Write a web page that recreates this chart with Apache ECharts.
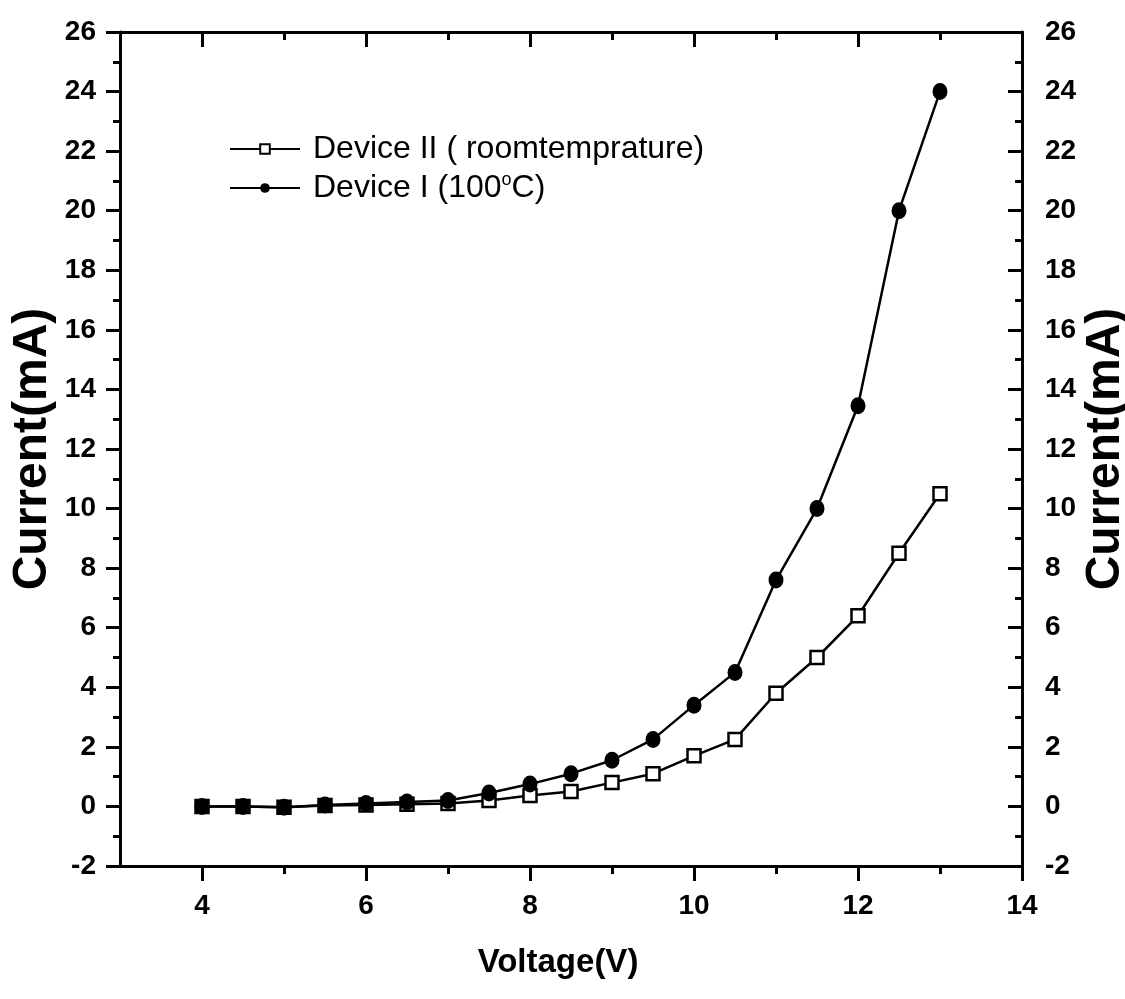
<!DOCTYPE html>
<html>
<head>
<meta charset="utf-8">
<script src="https://cdn.jsdelivr.net/npm/echarts@6/dist/echarts.min.js"></script>
<style>
html,body{margin:0;padding:0;background:#fff;}
#chart{width:1125px;height:999px;}
</style>
</head>
<body>
<div id="chart"></div>
<script>
var voltage = [4, 4.5, 5, 5.5, 6, 6.5, 7, 7.5, 8, 8.5, 9, 9.5, 10, 10.5, 11, 11.5, 12, 12.5, 13];
var deviceII = [0, 0, -0.03, 0.03, 0.05, 0.07, 0.1, 0.2, 0.37, 0.5, 0.8, 1.1, 1.7, 2.25, 3.8, 5.0, 6.4, 8.5, 10.5];
var deviceI = [0, 0, -0.03, 0.05, 0.1, 0.15, 0.2, 0.45, 0.75, 1.1, 1.55, 2.25, 3.4, 4.5, 7.6, 10.0, 13.45, 20.0, 24.0];
var xMajorTicks = [4, 6, 8, 10, 12, 14];
var xMinorTicks = [5, 7, 9, 11, 13];
var seriesNames = ['Device II ( roomtemprature)', 'Device I (100°C)'];
var xTitle = 'Voltage(V)';
var yTitle = 'Current(mA)';

function pairs(xs, ys) { return xs.map(function (x, i) { return [x, ys[i]]; }); }

var FONT = '"Liberation Sans", Arial, sans-serif';
var lineStyleAxis = { color: '#000', width: 3 };
var tickStyle = { color: '#000', width: 3 };

var chart = echarts.init(document.getElementById('chart'), null, { renderer: 'canvas' });
chart.setOption({
  backgroundColor: '#fff',
  animation: false,
  grid: { left: 120, right: 103, top: 32, bottom: 133, outerBoundsMode: 'none', containLabel: false },
  legend: {
    orient: 'vertical',
    left: 224,
    top: 128,
    itemWidth: 70,
    itemHeight: 12,
    itemGap: 6,
    data: seriesNames,
    textStyle: {
      fontFamily: FONT, fontSize: 32, color: '#000', padding: [0, 0, 0, 8],
      rich: {
        a: { fontFamily: FONT, fontSize: 32, color: '#000' },
        sup: { fontFamily: FONT, fontSize: 18, color: '#000', verticalAlign: 'bottom', padding: [0, 0, 16, 0] }
      }
    },
    formatter: function (name) {
      if (name.indexOf('°') >= 0) {
        var parts = name.split('°');
        return '{a|' + parts[0] + '}{sup|o}{a|' + parts[1] + '}';
      }
      return '{a|' + name + '}';
    }
  },
  xAxis: [
    {
      type: 'value', position: 'bottom', min: 3, max: 14,
      axisLine: { show: true, onZero: false, lineStyle: lineStyleAxis },
      axisTick: { show: true, inside: false, length: 15, customValues: xMajorTicks, lineStyle: tickStyle },
      axisLabel: { show: true, customValues: xMajorTicks, margin: 26, fontFamily: FONT, fontSize: 28, fontWeight: 'bold', color: '#000' },
      splitLine: { show: false },
      name: xTitle, nameLocation: 'middle', nameGap: 80,
      nameTextStyle: { fontFamily: FONT, fontSize: 33, fontWeight: 'bold', color: '#000', padding: [0, 26, 0, 0] }
    },
    {
      type: 'value', position: 'bottom', min: 3, max: 14,
      axisLine: { show: false, onZero: false },
      axisTick: { show: true, inside: false, length: 8, customValues: xMinorTicks, lineStyle: tickStyle },
      axisLabel: { show: false },
      splitLine: { show: false }
    },
    {
      type: 'value', position: 'top', min: 3, max: 14,
      axisLine: { show: true, onZero: false, lineStyle: lineStyleAxis },
      axisTick: { show: true, inside: true, length: 15, customValues: xMajorTicks, lineStyle: tickStyle },
      axisLabel: { show: false },
      splitLine: { show: false }
    },
    {
      type: 'value', position: 'top', min: 3, max: 14,
      axisLine: { show: false, onZero: false },
      axisTick: { show: true, inside: true, length: 8, customValues: xMinorTicks, lineStyle: tickStyle },
      axisLabel: { show: false },
      splitLine: { show: false }
    }
  ],
  yAxis: [
    {
      type: 'value', position: 'left', min: -2, max: 26, interval: 2,
      axisLine: { show: true, onZero: false, lineStyle: lineStyleAxis },
      axisTick: { show: true, inside: false, length: 14, lineStyle: tickStyle },
      minorTick: { show: true, splitNumber: 2, length: 7, lineStyle: tickStyle },
      axisLabel: { margin: 24, fontFamily: FONT, fontSize: 28, fontWeight: 'bold', color: '#000' },
      splitLine: { show: false },
      name: yTitle, nameLocation: 'middle', nameGap: 63, nameRotate: 90, nameMoveOverlap: false,
      nameTextStyle: { fontFamily: FONT, fontSize: 48, fontWeight: 'bold', color: '#000' }
    },
    {
      type: 'value', position: 'right', min: -2, max: 26, interval: 2,
      axisLine: { show: true, onZero: false, lineStyle: lineStyleAxis },
      axisTick: { show: true, inside: true, length: 14, lineStyle: tickStyle },
      minorTick: { show: true, splitNumber: 2, length: 7, lineStyle: tickStyle },
      axisLabel: { margin: 23, fontFamily: FONT, fontSize: 28, fontWeight: 'bold', color: '#000' },
      splitLine: { show: false },
      name: yTitle, nameLocation: 'middle', nameGap: 60, nameRotate: 90, nameMoveOverlap: false,
      nameTextStyle: { fontFamily: FONT, fontSize: 48, fontWeight: 'bold', color: '#000' }
    }
  ],
  series: [
    {
      name: seriesNames[0], type: 'line', xAxisIndex: 0, yAxisIndex: 0,
      data: pairs(voltage, deviceII),
      symbol: 'rect', symbolSize: 13, showAllSymbol: true,
      lineStyle: { color: '#000', width: 2.5 },
      itemStyle: { color: '#fff', borderColor: '#000', borderWidth: 2.5 },
      z: 2
    },
    {
      name: seriesNames[1], type: 'line', xAxisIndex: 0, yAxisIndex: 0,
      data: pairs(voltage, deviceI),
      symbol: 'circle', symbolSize: [15, 17], showAllSymbol: true,
      lineStyle: { color: '#000', width: 2.5 },
      itemStyle: { color: '#000', borderColor: '#000', borderWidth: 0 },
      z: 3
    }
  ]
});
</script>
</body>
</html>
